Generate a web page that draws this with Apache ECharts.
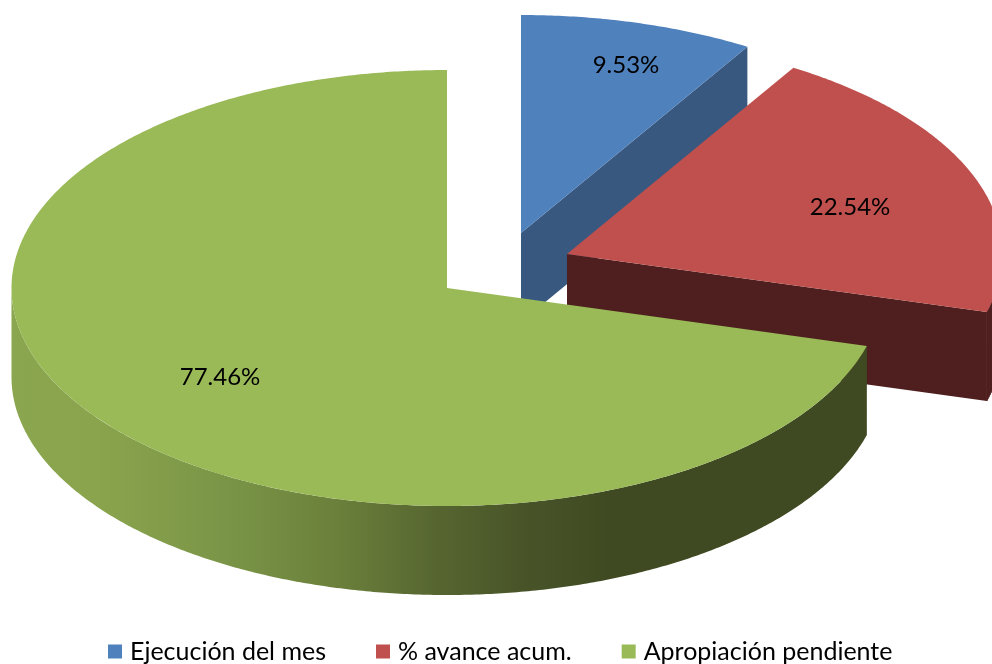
<!DOCTYPE html>
<html>
<head>
<meta charset="utf-8">
<style>html,body{margin:0;padding:0;background:#fff}#c{width:992px;height:664px}</style>
<script src="https://cdn.jsdelivr.net/npm/echarts@6/dist/echarts.min.js"></script>
</head>
<body>
<div id="c"></div>
<script>
var categories = ['Ejecución del mes', '% avance acum.', 'Apropiación pendiente'];
var values = [9.53, 22.54, 77.46];

var colors = ['#4F81BD', '#BF504D', '#9ABA58'];
var sideColors = ['#385880', '#4E1F1E', '#3F4A22'];
var RX = 435.5, RY = 218, DEPTH = 89;
var centers = [[521, 233], [567, 254], [447, 288]];
var labelPos = [[626, 65], [850, 207], [220, 377]];

var total = values.reduce(function (a, b) { return a + b; }, 0);
function pt(c, deg, dy) {
  var t = deg * Math.PI / 180;
  return [c[0] + RX * Math.sin(t), c[1] - RY * Math.cos(t) + (dy || 0)];
}
function arc(c, a0, a1, dy) {
  var out = [], n = Math.max(2, Math.ceil(Math.abs(a1 - a0) * 2));
  for (var i = 0; i <= n; i++) out.push(pt(c, a0 + (a1 - a0) * i / n, dy));
  return out;
}
var rimGradient = new echarts.graphic.LinearGradient(0, 0, 1, 0, [
  { offset: 0, color: '#8AA64F' },
  { offset: 0.1, color: '#8AA44D' },
  { offset: 0.25, color: '#7A9547' },
  { offset: 0.38, color: '#6B803B' },
  { offset: 0.5, color: '#566530' },
  { offset: 0.6, color: '#485428' },
  { offset: 0.7, color: '#3F4A22' },
  { offset: 1, color: '#3F4A22' }
]);

function sliceRenderer(idx) {
  return function (params, api) {
    var c = centers[idx];
    var before = 0;
    for (var i = 0; i < idx; i++) before += values[i];
    var a0 = before / total * 360;
    var a1 = (before + api.value(0)) / total * 360;
    var kids = [];
    // outer front rim: the part of the arc between 90 and 270 degrees
    var r0 = Math.max(a0, 90), r1 = Math.min(a1, 270);
    if (r1 > r0) {
      kids.push({ type: 'polygon', shape: { points: arc(c, r0, r1, 0).concat(arc(c, r1, r0, DEPTH)) },
        style: idx === 2 ? { fill: rimGradient } : { fill: sideColors[idx], stroke: sideColors[idx], lineWidth: 1 } });
    }
    // radial end face (blue, red)
    if (a1 < 180) {
      var e = pt(c, a1);
      kids.push({ type: 'polygon', shape: { points: [c, e, [e[0], e[1] + DEPTH], [c[0], c[1] + DEPTH]] },
        style: { fill: sideColors[idx] } });
    }
    // top face
    kids.push({ type: 'polygon', shape: { points: [c].concat(arc(c, a0, a1, 0)) },
      style: { fill: colors[idx] } });
    kids.push({ type: 'text', z2: 10, style: {
      text: api.value(0).toFixed(2) + '%', x: labelPos[idx][0], y: labelPos[idx][1],
      align: 'center', verticalAlign: 'middle', fill: '#000',
      font: '24px Lato, "Open Sans", sans-serif' } });
    return { type: 'group', children: kids };
  };
}

var chart = echarts.init(document.getElementById('c'), null, { renderer: 'canvas' });
chart.setOption({
  animation: false,
  legend: {
    data: categories, left: 103, top: 634, itemWidth: 14, itemHeight: 14, itemGap: 50,
    icon: 'rect', selectedMode: false,
    textStyle: { fontFamily: 'Lato, "Open Sans", sans-serif', fontSize: 25, color: '#000', padding: [0, 0, 0, 3] }
  },
  series: categories.map(function (name, i) {
    return {
      type: 'custom', name: name, coordinateSystem: 'none', z: 2 + i,
      data: [[values[i]]], dimensions: ['value'], encode: { value: 0 },
      itemStyle: { color: colors[i] }, clip: false, silent: true,
      renderItem: sliceRenderer(i)
    };
  })
});
</script>
</body>
</html>
